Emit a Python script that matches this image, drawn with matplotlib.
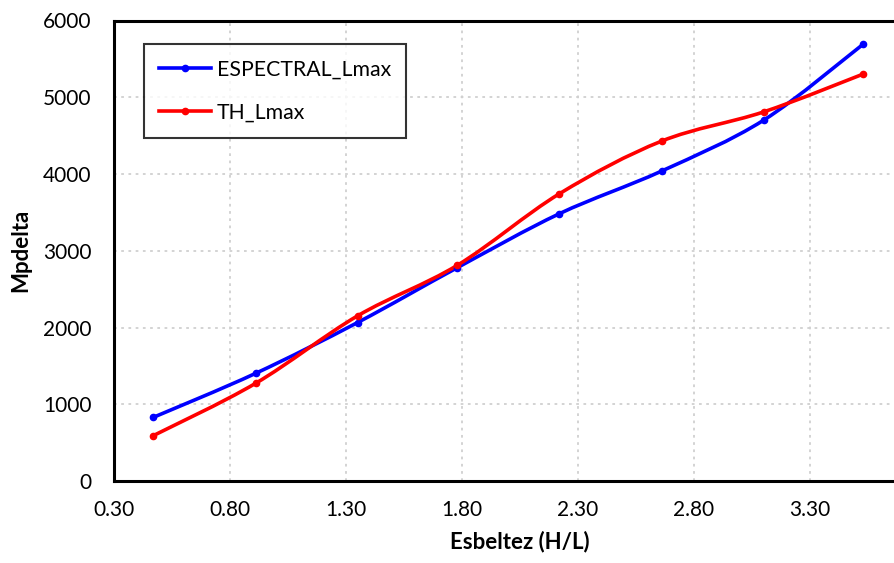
import numpy as np
import matplotlib
matplotlib.use("Agg")
import matplotlib.pyplot as plt
from matplotlib.path import Path
from matplotlib.patches import PathPatch
from matplotlib.lines import Line2D

# Data
x = [0.47, 0.91, 1.35, 1.78, 2.22, 2.66, 3.10, 3.53]
espectral = [830, 1402, 2065, 2780, 3483, 4038, 4701, 5693]
th = [592, 1272, 2152, 2811, 3743, 4428, 4809, 5303]
series_names = ["ESPECTRAL_Lmax", "TH_Lmax"]
series_colors = ["#0000FF", "#FF0000"]
xticks = [0.30, 0.80, 1.30, 1.80, 2.30, 2.80, 3.30]
yticks = [0, 1000, 2000, 3000, 4000, 5000, 6000]

plt.rcParams['font.family'] = ['Lato', 'DejaVu Sans']

fig = plt.figure(figsize=(8.94, 5.63), dpi=100)
ax = fig.add_axes([114/894, 82/563, (3.5*232)/894, (480.5-20)/563])


def smooth_path(xs, ys):
    xs = np.asarray(xs, float)
    ys = np.asarray(ys, float)
    n = len(xs)
    verts = [(xs[0], ys[0])]
    codes = [Path.MOVETO]
    for i in range(n - 1):
        i0 = max(i - 1, 0)
        i3 = min(i + 2, n - 1)
        c1 = (xs[i] + (xs[i+1] - xs[i0]) / 6, ys[i] + (ys[i+1] - ys[i0]) / 6)
        c2 = (xs[i+1] - (xs[i3] - xs[i]) / 6, ys[i+1] - (ys[i3] - ys[i]) / 6)
        verts += [c1, c2, (xs[i+1], ys[i+1])]
        codes += [Path.CURVE4] * 3
    return Path(verts, codes)


for ys, col in zip([espectral, th], series_colors):
    ax.add_patch(PathPatch(smooth_path(x, ys), facecolor='none', edgecolor=col,
                           lw=2.6, capstyle='round', zorder=3))
    ax.plot(x, ys, linestyle='none', marker='o', ms=4.5, color=col, zorder=4)

ax.set_xlim(0.30, 3.80)
ax.set_ylim(0, 6000)
ax.set_xticks(xticks)
ax.set_xticklabels([f"{t:.2f}" for t in xticks])
ax.set_yticks(yticks)
ax.set_yticklabels([str(t) for t in yticks])
ax.tick_params(axis='both', length=0, labelsize=15, colors='black')
ax.tick_params(axis='x', pad=14)
ax.tick_params(axis='y', pad=16)
ax.grid(True, color='#D0D0D0', linestyle=(0, (1.5, 2.5)), linewidth=1.3)
ax.set_axisbelow(True)
for s in ['left', 'bottom', 'top', 'right']:
    ax.spines[s].set_linewidth(2.2)
    ax.spines[s].set_color('black')

ax.set_xlabel("Esbeltez (H/L)", fontsize=16, fontweight='bold', labelpad=7)
ax.set_ylabel("Mpdelta", fontsize=16, fontweight='bold', labelpad=9)

handles = [Line2D([0], [0], color=c, lw=2.6, marker='o', ms=4.5) for c in series_colors]
leg = ax.legend(handles, series_names, loc='upper left', bbox_to_anchor=(0.037, 0.948),
                fontsize=15.3, frameon=True, fancybox=False, edgecolor='black',
                handlelength=2.45, handletextpad=0.25, labelspacing=1.08,
                borderpad=0.72, borderaxespad=0, markerscale=1.0)
leg.get_frame().set_linewidth(1.5)

fig.savefig("out.png", dpi=100)
